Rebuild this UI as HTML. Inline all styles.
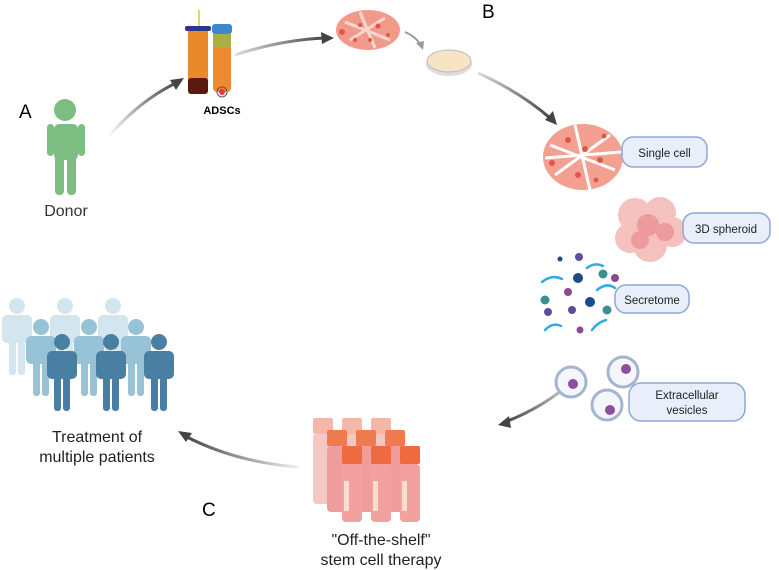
<!DOCTYPE html>
<html><head><meta charset="utf-8"><style>
html,body{margin:0;padding:0;background:#fff;}
svg{display:block;font-family:"Liberation Sans",Arial,sans-serif;}
</style></head><body>
<svg width="779" height="570" viewBox="0 0 779 570" xmlns="http://www.w3.org/2000/svg">
<defs>
<linearGradient id="g1" x1="0" y1="1" x2="1" y2="0"><stop offset="0" stop-color="#fff"/><stop offset="1" stop-color="#444"/></linearGradient>
<linearGradient id="g2" x1="0" y1="0" x2="1" y2="0"><stop offset="0" stop-color="#ddd"/><stop offset="1" stop-color="#444"/></linearGradient>
<linearGradient id="g3" x1="1" y1="0" x2="0" y2="0"><stop offset="0" stop-color="#eee"/><stop offset="1" stop-color="#444"/></linearGradient>
<linearGradient id="g4" x1="1" y1="0" x2="0" y2="1"><stop offset="0" stop-color="#fff"/><stop offset="1" stop-color="#444"/></linearGradient>
</defs>
<!-- arrows -->
<path d="M108 137 Q140 100 178 82" stroke="url(#g1)" stroke-width="3" fill="none"/>
<polygon points="184,78 170,80 176,90" fill="#444"/>
<path d="M235 55 Q280 40 325 38" stroke="url(#g2)" stroke-width="3" fill="none"/>
<polygon points="334,38 321,32 322,44" fill="#444"/>
<path d="M405 32 Q415 36 420 44" stroke="#999" stroke-width="2" fill="none"/>
<polygon points="423,50 416,43 424,41" fill="#999"/>
<path d="M478 73 Q520 92 550 118" stroke="url(#g2)" stroke-width="3" fill="none"/>
<polygon points="557,125 545,120 553,111" fill="#444"/>
<path d="M585 370 Q550 405 505 422" stroke="url(#g4)" stroke-width="3" fill="none"/>
<polygon points="498,425 509,416 511,428" fill="#444"/>
<path d="M298 467 Q235 462 185 436" stroke="url(#g3)" stroke-width="3" fill="none"/>
<polygon points="178,431 192,433 186,442" fill="#444"/>
<!-- labels -->
<text x="19" y="118" font-size="19">A</text>
<text x="482" y="18" font-size="19">B</text>
<text x="202" y="516" font-size="19">C</text>
<!-- donor -->
<g fill="#7dbd81">
<circle cx="65" cy="110" r="11"/>
<rect x="54" y="124" width="24" height="36" rx="5"/>
<rect x="47" y="124" width="7" height="32" rx="3.5"/>
<rect x="78" y="124" width="7" height="32" rx="3.5"/>
<rect x="55" y="140" width="9" height="55" rx="4"/>
<rect x="67" y="140" width="9" height="55" rx="4"/>
</g>
<text x="66" y="216" font-size="16" text-anchor="middle" fill="#333">Donor</text>
<!-- tubes -->
<rect x="198" y="10" width="2" height="20" fill="#e6d36a"/>
<rect x="188" y="27" width="20" height="66" rx="3" fill="#e88a2a"/>
<rect x="188" y="78" width="20" height="16" rx="3" fill="#5a1a10"/>
<rect x="185" y="26" width="26" height="5" rx="2" fill="#33358a"/>
<rect x="212" y="24" width="20" height="10" rx="3" fill="#3a88d0"/>
<rect x="213" y="34" width="18" height="58" rx="4" fill="#f08a30"/>
<rect x="213" y="34" width="18" height="14" fill="#a8b040"/>
<circle cx="222" cy="92" r="5" fill="none" stroke="#555" stroke-width="1"/>
<circle cx="222" cy="92" r="3" fill="#e34"/>
<text x="222" y="114" font-size="11" font-weight="bold" text-anchor="middle">ADSCs</text>
<!-- top cells -->
<ellipse cx="368" cy="30" rx="32" ry="20" fill="#f29a8a"/>
<path d="M345 22 L390 40 M350 40 L385 18 M360 12 L375 48" stroke="#fff" stroke-width="3" opacity="0.6"/>
<g fill="#e2554a"><circle cx="342" cy="32" r="3"/><circle cx="360" cy="25" r="2"/><circle cx="378" cy="26" r="2.5"/><circle cx="370" cy="40" r="2"/><circle cx="388" cy="35" r="2"/><circle cx="355" cy="40" r="2"/></g>
<!-- petri dish -->
<ellipse cx="449" cy="64" rx="23" ry="12" fill="#ddd"/>
<ellipse cx="449" cy="61" rx="22" ry="11" fill="#f6e4c4" stroke="#bbb"/>
<!-- single cell cluster -->
<ellipse cx="583" cy="157" rx="40" ry="33" fill="#f4a090"/>
<path d="M550 145 L615 170 M555 175 L610 135 M575 125 L590 190 M545 158 L622 152" stroke="#fff" stroke-width="3"/>
<g fill="#e2554a"><circle cx="552" cy="163" r="3"/><circle cx="568" cy="140" r="3"/><circle cx="585" cy="149" r="3"/><circle cx="600" cy="160" r="3"/><circle cx="578" cy="175" r="3"/><circle cx="604" cy="136" r="2.5"/><circle cx="596" cy="180" r="2.5"/></g>
<rect x="622" y="137" width="85" height="30" rx="11" fill="#e8effa" stroke="#8fa6d8" stroke-width="1.5"/>
<text x="664.5" y="157" font-size="11.5" text-anchor="middle" fill="#222">Single cell</text>
<!-- spheroid -->
<g fill="#f2b2b0" opacity="0.8">
<circle cx="635" cy="215" r="17"/><circle cx="660" cy="213" r="16"/><circle cx="672" cy="232" r="15"/><circle cx="650" cy="245" r="17"/><circle cx="630" cy="238" r="15"/>
</g>
<g fill="#ed9a9c"><circle cx="648" cy="225" r="11"/><circle cx="665" cy="232" r="9"/><circle cx="640" cy="240" r="9"/></g>
<rect x="683" y="213" width="87" height="30" rx="11" fill="#e8effa" stroke="#8fa6d8" stroke-width="1.5"/>
<text x="726" y="233" font-size="11.5" text-anchor="middle" fill="#222">3D spheroid</text>
<!-- secretome -->
<g fill="none" stroke="#2eaee0" stroke-width="2.5" stroke-linecap="round">
<path d="M542 282 q10 -8 20 -3"/><path d="M587 268 q8 -6 16 -2"/><path d="M597 290 q10 -8 18 -2"/><path d="M545 330 q8 -8 16 -4"/><path d="M592 330 q6 -8 14 -10"/>
</g>
<g><circle cx="560" cy="259" r="2.5" fill="#1f4a8a"/><circle cx="579" cy="257" r="4" fill="#5c4e9a"/><circle cx="578" cy="278" r="5" fill="#1f4a8a"/><circle cx="603" cy="274" r="4.5" fill="#3a9090"/><circle cx="615" cy="278" r="4" fill="#8a4a8c"/><circle cx="568" cy="292" r="4" fill="#8a4a8c"/><circle cx="545" cy="300" r="4.5" fill="#3a9090"/><circle cx="590" cy="302" r="5" fill="#1f4a8a"/><circle cx="572" cy="310" r="4" fill="#5c4e9a"/><circle cx="548" cy="312" r="4" fill="#5c4e9a"/><circle cx="607" cy="310" r="4.5" fill="#3a9090"/><circle cx="580" cy="330" r="3.5" fill="#8a4a8c"/></g>
<rect x="615" y="285" width="74" height="28" rx="11" fill="#e8effa" stroke="#8fa6d8" stroke-width="1.5"/>
<text x="652" y="304" font-size="11.5" text-anchor="middle" fill="#222">Secretome</text>
<!-- vesicles -->
<g fill="#f4f6fb" stroke="#a6b4d2" stroke-width="3">
<circle cx="571" cy="382" r="15"/><circle cx="623" cy="372" r="15"/><circle cx="607" cy="405" r="15"/>
</g>
<g fill="#8a4f9e"><circle cx="573" cy="384" r="5"/><circle cx="626" cy="369" r="5"/><circle cx="610" cy="410" r="5"/></g>
<rect x="629" y="383" width="116" height="38" rx="12" fill="#e8effa" stroke="#8fa6d8" stroke-width="1.5"/>
<text x="687" y="399" font-size="11.5" text-anchor="middle" fill="#222">Extracellular</text>
<text x="687" y="414" font-size="11.5" text-anchor="middle" fill="#222">vesicles</text>
<!-- vials -->
<g>
<g fill="#f6b7a6"><rect x="313" y="418" width="20" height="16" rx="2"/><rect x="342" y="418" width="20" height="16" rx="2"/><rect x="371" y="418" width="20" height="16" rx="2"/></g>
<g fill="#f4c6c4"><rect x="313" y="434" width="20" height="70" rx="4"/><rect x="342" y="434" width="20" height="70" rx="4"/><rect x="371" y="434" width="20" height="70" rx="4"/></g>
<g fill="#f07a50"><rect x="327" y="430" width="20" height="16" rx="2"/><rect x="356" y="430" width="20" height="16" rx="2"/><rect x="385" y="430" width="20" height="16" rx="2"/></g>
<g fill="#ee9c9c"><rect x="327" y="446" width="20" height="66" rx="4"/><rect x="356" y="446" width="20" height="66" rx="4"/><rect x="385" y="446" width="20" height="66" rx="4"/></g>
<g fill="#f06a40"><rect x="342" y="446" width="20" height="18" rx="2"/><rect x="371" y="446" width="20" height="18" rx="2"/><rect x="400" y="446" width="20" height="18" rx="2"/></g>
<g fill="#f2a0a0"><rect x="342" y="464" width="20" height="58" rx="4"/><rect x="371" y="464" width="20" height="58" rx="4"/><rect x="400" y="464" width="20" height="58" rx="4"/></g>
<g fill="#f8ddd0"><rect x="344" y="481" width="5" height="30"/><rect x="373" y="481" width="5" height="30"/><rect x="402" y="481" width="5" height="30"/></g>
</g>
<text x="381" y="545" font-size="16" text-anchor="middle" fill="#222">"Off-the-shelf"</text>
<text x="381" y="565" font-size="16" text-anchor="middle" fill="#222">stem cell therapy</text>
<!-- patients -->
<defs>
<g id="p"><circle cx="0" cy="0" r="8"/><rect x="-15" y="9" width="30" height="28" rx="5"/><rect x="-8" y="25" width="7" height="44" rx="3"/><rect x="1" y="25" width="7" height="44" rx="3"/></g>
</defs>
<g fill="#d3e5ee"><use href="#p" x="17" y="306"/><use href="#p" x="65" y="306"/><use href="#p" x="113" y="306"/></g>
<g fill="#98c3d6"><use href="#p" x="41" y="327"/><use href="#p" x="89" y="327"/><use href="#p" x="136" y="327"/></g>
<g fill="#4a7fa4"><use href="#p" x="62" y="342"/><use href="#p" x="111" y="342"/><use href="#p" x="159" y="342"/></g>
<text x="97" y="442" font-size="16" text-anchor="middle" fill="#222">Treatment of</text>
<text x="97" y="462" font-size="16" text-anchor="middle" fill="#222">multiple patients</text>
</svg>
</body></html>
